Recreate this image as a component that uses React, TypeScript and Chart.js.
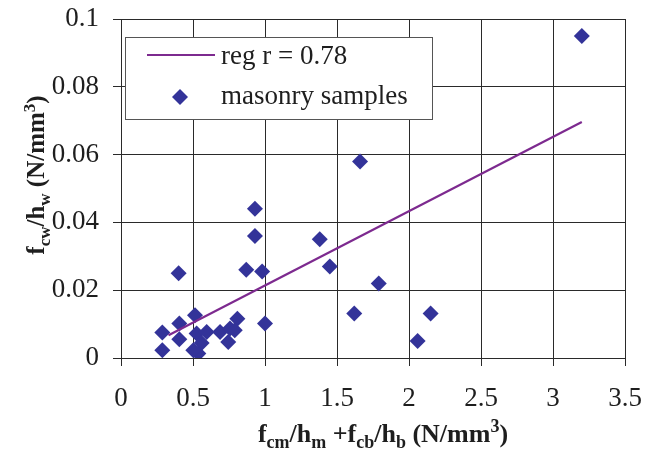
import { useEffect, useRef } from 'react';
import { Chart, registerables } from 'chart.js';

Chart.register(...registerables);

// ---- data ----
const sampleX = [3.2, 1.66, 0.93, 0.93, 1.38, 0.4, 0.87, 0.98, 1.45, 1.79, 1.62, 2.15, 2.06, 1.0,
  0.287, 0.287, 0.405, 0.405, 0.514, 0.525, 0.595, 0.56, 0.537, 0.502, 0.688, 0.757, 0.745, 0.808, 0.79];
const sampleY = [0.095, 0.058, 0.044, 0.036, 0.035, 0.025, 0.026, 0.0255, 0.027, 0.022, 0.0131, 0.0131, 0.005, 0.0102,
  0.0075, 0.0023, 0.0102, 0.0055, 0.0126, 0.0072, 0.0077, 0.0044, 0.0013, 0.0023, 0.0077, 0.0087, 0.0047, 0.0116, 0.0082];
const regX = [0.33, 3.2];
const regY = [0.0067, 0.0696];
const seriesLabels = ['reg r = 0.78', 'masonry samples'];
const xTickValues = [0, 0.5, 1, 1.5, 2, 2.5, 3, 3.5];
const xTickLabels = ['0', '0.5', '1', '1.5', '2', '2.5', '3', '3.5'];
const yTickValues = [0, 0.02, 0.04, 0.06, 0.08, 0.1];
const yTickLabels = ['0', '0.02', '0.04', '0.06', '0.08', '0.1'];
const xTitleParts: [string, string][] = [['f', 'n'], ['cm', 'sub'], ['/h', 'n'], ['m', 'sub'], [' +f', 'n'], ['cb', 'sub'], ['/h', 'n'], ['b', 'sub'], [' (N/mm', 'n'], ['3', 'sup'], [')', 'n']];
const yTitleParts: [string, string][] = [['f', 'n'], ['cw', 'sub'], ['/h', 'n'], ['w', 'sub'], [' (N/mm', 'n'], ['3', 'sup'], [')', 'n']];

const SERIF = "'Liberation Serif', 'Times New Roman', serif";
const LINE_COLOR = '#7d2a8f';
const POINT_COLOR = '#333399';
const GRID_COLOR = '#2a2a2a';
const TEXT_COLOR = '#1e1e1e';

function drawRich(ctx: CanvasRenderingContext2D, parts: [string, string][], cx: number, y: number, main: number, small: number) {
  const fontFor = (k: string) => `bold ${k === 'n' ? main : small}px ${SERIF}`;
  let total = 0;
  const widths = parts.map(([t, k]) => {
    ctx.font = fontFor(k);
    const w = ctx.measureText(t).width;
    total += w;
    return w;
  });
  let x = cx - total / 2;
  ctx.textBaseline = 'alphabetic';
  ctx.textAlign = 'left';
  parts.forEach(([t, k], i) => {
    ctx.font = fontFor(k);
    const dy = k === 'sub' ? main * 0.22 : k === 'sup' ? -main * 0.38 : 0;
    ctx.fillText(t, x, y + dy);
    x += widths[i];
  });
}

const decorPlugin = {
  id: 'decor',
  afterDraw(chart: any) {
    const ctx: CanvasRenderingContext2D = chart.ctx;
    ctx.save();
    ctx.fillStyle = TEXT_COLOR;
    // axis titles
    drawRich(ctx, xTitleParts, 383, 442, 26, 18);
    ctx.save();
    ctx.translate(44, 175);
    ctx.rotate(-Math.PI / 2);
    drawRich(ctx, yTitleParts, 0, 0, 25, 17);
    ctx.restore();

    // legend
    const bx = 125.5, by = 37.5, bw = 307, bh = 82;
    ctx.fillStyle = '#ffffff';
    ctx.fillRect(bx, by, bw, bh);
    ctx.strokeStyle = '#555555';
    ctx.lineWidth = 1;
    ctx.strokeRect(bx, by, bw, bh);
    ctx.strokeStyle = LINE_COLOR;
    ctx.lineWidth = 2;
    ctx.beginPath();
    ctx.moveTo(147, 55);
    ctx.lineTo(215, 55);
    ctx.stroke();
    ctx.fillStyle = POINT_COLOR;
    ctx.beginPath();
    const r = 8, px = 180, py = 97;
    ctx.moveTo(px - r, py);
    ctx.lineTo(px, py - r);
    ctx.lineTo(px + r, py);
    ctx.lineTo(px, py + r);
    ctx.closePath();
    ctx.fill();
    ctx.fillStyle = TEXT_COLOR;
    ctx.font = `27px ${SERIF}`;
    ctx.textAlign = 'left';
    ctx.textBaseline = 'alphabetic';
    ctx.fillText(seriesLabels[0], 221, 64);
    ctx.fillText(seriesLabels[1], 221, 104);
    ctx.restore();
  },
};

export default function App() {
  const ref = useRef<HTMLCanvasElement | null>(null);
  useEffect(() => {
    document.body.style.margin = '0';
    const canvas = ref.current!;
    const chart = new Chart(canvas, {
      type: 'scatter',
      data: {
        datasets: [
          {
            label: seriesLabels[0],
            data: regX.map((x, i) => ({ x, y: regY[i] })),
            showLine: true,
            borderColor: LINE_COLOR,
            borderWidth: 2.2,
            pointRadius: 0,
            fill: false,
          },
          {
            label: seriesLabels[1],
            data: sampleX.map((x, i) => ({ x, y: sampleY[i] })),
            pointStyle: 'rectRot',
            pointRadius: 8,
            pointBorderWidth: 0,
            backgroundColor: POINT_COLOR,
            borderColor: POINT_COLOR,
          },
        ],
      },
      options: {
        responsive: false,
        animation: false,
        layout: { padding: { left: 0, right: 27, top: 19, bottom: 0 } },
        plugins: { legend: { display: false }, tooltip: { enabled: false } },
        scales: {
          x: {
            type: 'linear',
            min: 0,
            max: 3.5,
            afterBuildTicks: (s: any) => { s.ticks = xTickValues.map((v) => ({ value: v })); },
            afterFit: (s: any) => { s.height = 93; s.paddingLeft = 0; s.paddingRight = 0; },
            ticks: {
              callback: (_v: any, i: number) => xTickLabels[i],
              font: { family: SERIF, size: 27 },
              color: TEXT_COLOR,
              padding: 17,
              maxRotation: 0,
            },
            grid: { color: GRID_COLOR, lineWidth: 1, tickLength: 8, tickColor: GRID_COLOR },
            border: { color: GRID_COLOR, width: 1 },
          },
          y: {
            type: 'linear',
            min: 0,
            max: 0.1,
            afterBuildTicks: (s: any) => { s.ticks = yTickValues.map((v) => ({ value: v })); },
            afterFit: (s: any) => { s.width = 121; s.paddingTop = 0; s.paddingBottom = 0; },
            ticks: {
              callback: (_v: any, i: number) => yTickLabels[i],
              font: { family: SERIF, size: 27 },
              color: TEXT_COLOR,
              padding: 14,
            },
            grid: { color: GRID_COLOR, lineWidth: 1, tickLength: 8, tickColor: GRID_COLOR },
            border: { color: GRID_COLOR, width: 1 },
          },
        },
      },
      plugins: [decorPlugin],
    } as any);
    return () => chart.destroy();
  }, []);
  return (
    <div style={{ width: 652, height: 451 }}>
      <canvas ref={ref} width={652} height={451} />
    </div>
  );
}
